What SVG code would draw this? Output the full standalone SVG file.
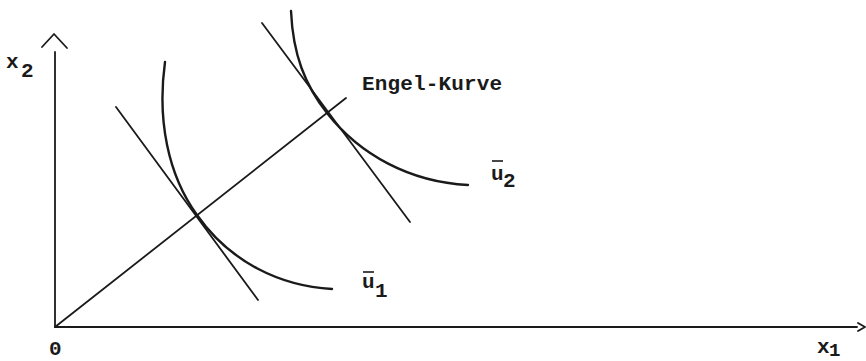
<svg xmlns="http://www.w3.org/2000/svg" width="866" height="361" viewBox="0 0 866 361">
<style>
.ln{fill:none;stroke:#1a1a1a;stroke-width:1.8;stroke-linecap:round;stroke-linejoin:round}
.cv{fill:none;stroke:#1a1a1a;stroke-width:2.4;stroke-linecap:round}
.t{font-family:"Liberation Mono","DejaVu Sans Mono",monospace;font-size:21px;font-weight:bold;fill:#1a1a1a}
.bar{stroke:#1a1a1a;stroke-width:1.6}
</style>
<rect width="866" height="361" fill="#fff"/>
<g id="axes">
<line class="ln" x1="55" y1="327" x2="55" y2="52"/>
<polyline class="ln" points="42,47 54,34 67,48"/>
<line class="ln" x1="55" y1="327" x2="857" y2="327"/>
<polyline class="ln" points="858,323 865,327 858,331"/>
</g>
<g id="connectors">
<line id="engel-line" class="ln" x1="55" y1="327" x2="346" y2="98"/>
<line id="tangent1" class="ln" x1="116" y1="107" x2="258" y2="300"/>
<line id="tangent2" class="ln" x1="262" y1="23" x2="410" y2="222"/>
</g>
<g id="u1-curve">
<path class="cv" d="M165,62 C157,120 168,175 197,215 C230,262 280,286 332,289"/>
</g>
<g id="u2-curve">
<path class="cv" d="M291,11 C293,55 305,85 327,113 C360,155 410,182 468,185"/>
</g>
<g id="labels">
<text class="t" x="6" y="68">x</text>
<text class="t" x="21" y="77">2</text>
<text class="t" x="49" y="355">0</text>
<text class="t" x="817" y="353">x</text>
<text class="t" x="829" y="356" style="font-size:19px">1</text>
<text class="t" x="362" y="90" textLength="140">Engel-Kurve</text>
<text class="t" x="491" y="180">u</text>
<line class="bar" x1="492" y1="161" x2="503" y2="161"/>
<text class="t" x="503" y="187">2</text>
<text class="t" x="362" y="288">u</text>
<line class="bar" x1="363" y1="272" x2="374" y2="272"/>
<text class="t" x="375" y="297">1</text>
</g>
</svg>
